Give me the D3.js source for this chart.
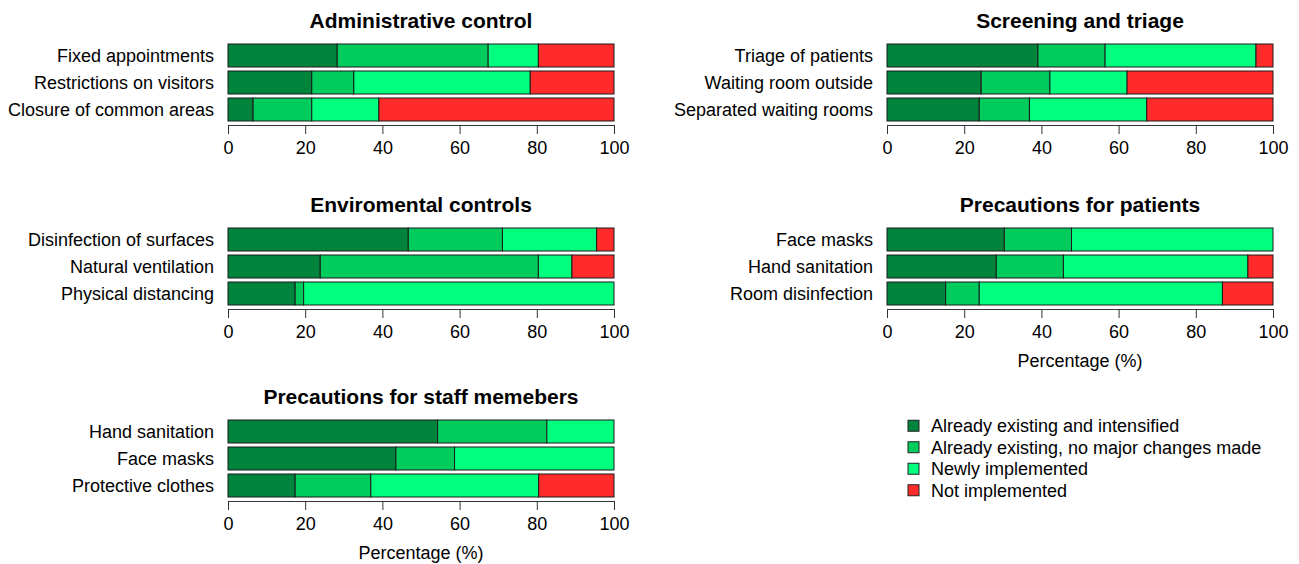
<!DOCTYPE html>
<html>
<head>
<meta charset="utf-8">
<script src="https://cdn.jsdelivr.net/npm/d3@7"></script>
<style>
  body { margin: 0; background: #fff; }
  text { font-family: "Liberation Sans", Arial, sans-serif; fill: #000; }
</style>
</head>
<body>
<script>
// --- Data (percent of respondents) ---
const legendLabels = [
  "Already existing and intensified",
  "Already existing, no major changes made",
  "Newly implemented",
  "Not implemented"
];
const tickValues = [0, 20, 40, 60, 80, 100];

const adminTitle = "Administrative control";
const adminCategories = ["Fixed appointments", "Restrictions on visitors", "Closure of common areas"];
const adminValues = [[28.3, 39.1, 13.0, 19.6], [21.7, 10.9, 45.7, 21.7], [6.5, 15.2, 17.4, 60.9]];

const screenTitle = "Screening and triage";
const screenCategories = ["Triage of patients", "Waiting room outside", "Separated waiting rooms"];
const screenValues = [[39.1, 17.4, 39.1, 4.4], [24.4, 17.8, 20.0, 37.8], [23.9, 13.0, 30.4, 32.7]];

const envTitle = "Enviromental controls";
const envCategories = ["Disinfection of surfaces", "Natural ventilation", "Physical distancing"];
const envValues = [[46.7, 24.4, 24.4, 4.5], [23.9, 56.5, 8.7, 10.9], [17.4, 2.2, 80.4, 0]];

const patientTitle = "Precautions for patients";
const patientCategories = ["Face masks", "Hand sanitation", "Room disinfection"];
const patientValues = [[30.4, 17.4, 52.2, 0], [28.3, 17.4, 47.8, 6.5], [15.2, 8.7, 63.0, 13.1]];

const staffTitle = "Precautions for staff memebers";
const staffCategories = ["Hand sanitation", "Face masks", "Protective clothes"];
const staffValues = [[54.3, 28.3, 17.4, 0], [43.5, 15.2, 41.3, 0], [17.4, 19.6, 43.5, 19.5]];

const xLabel = "Percentage (%)";

// --- Styling ---
const colors = ["#00843c", "#00cc5e", "#00ff7f", "#ff2a2a"];
const W = 1299, H = 564;
const plotW = 386;
const barBlock = 77;   // three bars + two gaps
const axisOffset = 81; // axis line below top of first bar

const panels = [
  {title: adminTitle,   cats: adminCategories,   vals: adminValues,   left: 228, top: 44,  xlab: false},
  {title: screenTitle,  cats: screenCategories,  vals: screenValues,  left: 887, top: 44,  xlab: false},
  {title: envTitle,     cats: envCategories,     vals: envValues,     left: 228, top: 228, xlab: false},
  {title: patientTitle, cats: patientCategories, vals: patientValues, left: 887, top: 228, xlab: true},
  {title: staffTitle,   cats: staffCategories,   vals: staffValues,   left: 228, top: 420, xlab: true}
];

const svg = d3.select("body").append("svg")
  .attr("width", W).attr("height", H);

panels.forEach(p => {
  const g = svg.append("g").attr("transform", `translate(${p.left},${p.top})`);

  const x = d3.scaleLinear().domain([0, 100]).range([0, plotW]);
  const y = d3.scaleBand().domain(p.cats).range([0, barBlock]).paddingInner(0.148).paddingOuter(0);

  // title
  g.append("text")
    .attr("x", plotW / 2).attr("y", -16)
    .attr("text-anchor", "middle")
    .style("font-size", "21px").style("font-weight", "bold")
    .text(p.title);

  // stacked bars
  p.vals.forEach((row, i) => {
    const ends = Array.from(d3.cumsum(row));
    const segs = row.map((v, k) => ({k, x0: ends[k] - v, x1: ends[k]}));
    g.selectAll(null)
      .data(segs.filter(s => s.x1 > s.x0))
      .enter().append("rect")
        .attr("x", s => x(s.x0))
        .attr("y", y(p.cats[i]))
        .attr("width", s => x(s.x1) - x(s.x0))
        .attr("height", y.bandwidth())
        .attr("fill", s => colors[s.k])
        .attr("stroke", "#1a1a1a")
        .attr("stroke-width", 1);
  });

  // category labels
  g.selectAll(null)
    .data(p.cats)
    .enter().append("text")
      .attr("x", -14)
      .attr("y", d => y(d) + y.bandwidth() / 2)
      .attr("dy", "0.36em")
      .attr("text-anchor", "end")
      .style("font-size", "18px")
      .text(d => d);

  // x axis
  const ax = g.append("g")
    .attr("transform", `translate(0,${axisOffset})`)
    .call(d3.axisBottom(x).tickValues(tickValues).tickSize(9).tickSizeOuter(0).tickPadding(7));
  ax.select(".domain").attr("stroke", "#333");
  ax.selectAll(".tick line").attr("stroke", "#333");
  ax.selectAll(".tick text")
    .style("font-size", "18px")
    .style("font-family", "'Liberation Sans', Arial, sans-serif")
    .attr("fill", "#000");

  if (p.xlab) {
    g.append("text")
      .attr("x", plotW / 2).attr("y", axisOffset + 58)
      .attr("text-anchor", "middle")
      .style("font-size", "18px")
      .text(xLabel);
  }
});

// --- Legend ---
const legend = svg.append("g").attr("transform", "translate(908,415)");
const ly = d3.scaleBand().domain(legendLabels).range([0, 86]);
legend.selectAll("rect")
  .data(legendLabels)
  .enter().append("rect")
    .attr("x", 0)
    .attr("y", d => ly(d) + ly.bandwidth() / 2 - 5.5)
    .attr("width", 11).attr("height", 11)
    .attr("fill", (d, i) => colors[i])
    .attr("stroke", "#222");
legend.selectAll("text")
  .data(legendLabels)
  .enter().append("text")
    .attr("x", 23)
    .attr("y", d => ly(d) + ly.bandwidth() / 2)
    .attr("dy", "0.36em")
    .style("font-size", "18px")
    .text(d => d);
</script>
</body>
</html>
